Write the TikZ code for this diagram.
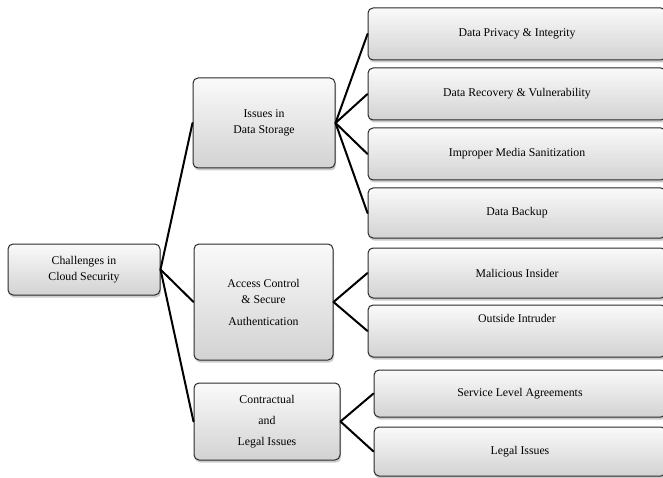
\documentclass[tikz,border=0pt]{standalone}
\usepackage{fontspec}
\setmainfont{Liberation Serif}
\usetikzlibrary{positioning,shadows}
\definecolor{cborder}{HTML}{2A2A2A}
\tikzset{
  box/.style={draw=cborder, line width=1pt, rounded corners=5pt, top color=gray!4, bottom color=gray!35, drop shadow={shadow xshift=1pt, shadow yshift=-2.5pt, opacity=.4}, align=center, font=\fontsize{11.8}{16.5}\selectfont, inner sep=0pt},
  leaf/.style={box, minimum width=298pt},
  link/.style={line width=2pt, line cap=round},
}
\begin{document}
\begin{tikzpicture}[x=1pt, y=-1pt]
    \useasboundingbox (0,0) rectangle (663,478);
    \clip (0,0) rectangle (663,478);
    % main branches
    \node[box, minimum width=152pt, minimum height=51pt] (root) at (84,269.5) {Challenges in\\Cloud Security};
    \node[box, minimum width=142pt, minimum height=90pt] (storage) at (264,123) {Issues in\\Data Storage};
    \node[box, minimum width=139pt, minimum height=116pt] (access) at (263.5,302) {Access Control\\\& Secure\\[5pt]Authentication};
    \node[box, minimum width=146pt, minimum height=77pt, font=\fontsize{11.8}{21}\selectfont] (legal) at (267,421.5) {Contractual\\and\\Legal Issues};
    % leaves
    \node[leaf, minimum height=52pt] (privacy) at (517,34) {Data Privacy \& Integrity};
    \node[leaf, minimum height=52pt] (recovery) at (517,94) {Data Recovery \& Vulnerability};
    \node[leaf, minimum height=52pt] (sanit) at (517,154) {Improper Media Sanitization};
    \node[leaf, minimum height=50pt] (backup) at (517,213) {Data Backup};
    \node[leaf, minimum height=50pt] (insider) at (517,273) {Malicious Insider};
    \node[leaf, minimum height=52pt] (intruder) at (517,331) {Outside Intruder\\[8pt]\mbox{}};
    \node[leaf, minimum height=47pt, minimum width=292pt] (sla) at (520,393.5) {Service Level Agreements};
    \node[leaf, minimum height=49pt, minimum width=292pt] (legaliss) at (520,451.5) {Legal Issues};
    % connectors
    \draw[link] (root.east) -- (storage.west);
    \draw[link] (root.east) -- (access.west);
    \draw[link] (root.east) -- (legal.west);
    \foreach \t in {privacy,recovery,sanit,backup}
      \draw[link] (storage.east) -- (\t.west);
    \draw[link] (access.east) -- (insider.west);
    \draw[link] (access.east) -- (intruder.west);
    \draw[link] (legal.east) -- (sla.west);
    \draw[link] (legal.east) -- (legaliss.west);
\end{tikzpicture}
\end{document}
